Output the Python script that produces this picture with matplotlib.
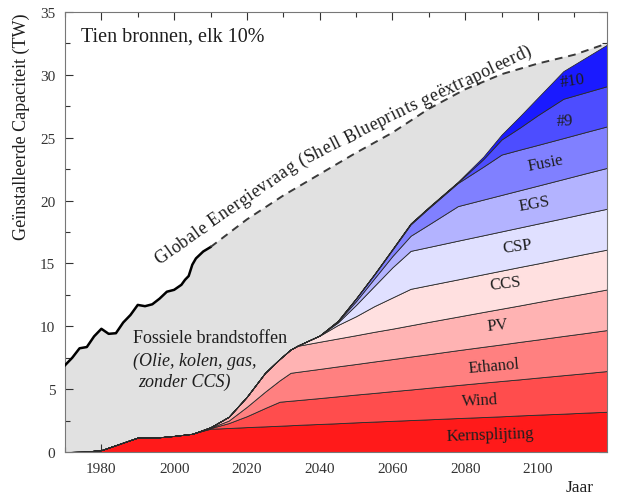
import numpy as np
import matplotlib
matplotlib.use("Agg")
import matplotlib.pyplot as plt
from matplotlib.ticker import MultipleLocator
from matplotlib.font_manager import FontProperties, findfont, get_font

plt.rcParams['font.family'] = ['Liberation Serif', 'DejaVu Serif']

# ------------------------------------------------------------
# data (TW)
# ------------------------------------------------------------
years = [1970, 1975, 1980, 1985, 1990, 1995, 2000, 2005, 2008, 2010, 2015, 2020,
         2025, 2029, 2032, 2034, 2040, 2045, 2050, 2055, 2060, 2065, 2070, 2078,
         2085, 2090, 2095, 2100, 2107, 2113, 2119]

kern = [0, 0.02, 0.15, 0.65, 1.15, 1.15, 1.28, 1.45, 1.7, 1.85, 1.91, 1.98,
        2.04, 2.09, 2.13, 2.16, 2.23, 2.29, 2.36, 2.42, 2.48, 2.54, 2.60, 2.70,
        2.78, 2.84, 2.91, 2.97, 3.05, 3.13, 3.2]
wind = [0, 0, 0, 0, 0, 0, 0, 0, 0.02, 0.05, 0.39, 0.87,
        1.46, 1.91, 1.95, 1.97, 2.06, 2.14, 2.21, 2.28, 2.36, 2.43, 2.51, 2.63,
        2.74, 2.81, 2.87, 2.95, 3.06, 3.14, 3.24]
ethanol = [0, 0, 0, 0, 0, 0, 0, 0, 0.02, 0.03, 0.2, 0.75,
           1.3, 1.7, 2.22, 2.25, 2.32, 2.38, 2.43, 2.5, 2.55, 2.62, 2.67, 2.77,
           2.85, 2.91, 2.98, 3.03, 3.12, 3.19, 3.26]
pv = [0, 0, 0, 0, 0, 0, 0, 0, 0.02, 0.04, 0.3, 0.8,
      1.5, 1.7, 1.85, 2.07, 2.16, 2.22, 2.29, 2.36, 2.42, 2.49, 2.57, 2.67,
      2.77, 2.84, 2.9, 2.98, 3.07, 3.15, 3.23]
ccs = [0, 0, 0, 0, 0, 0, 0, 0, 0, 0, 0, 0,
       0, 0, 0, 0.02, 0.48, 1.07, 1.51, 2.04, 2.48, 2.9, 2.92, 2.96,
       3.0, 3.03, 3.06, 3.07, 3.11, 3.15, 3.17]
csp = [0, 0, 0, 0, 0, 0, 0, 0, 0, 0, 0, 0,
       0, 0, 0, 0, 0.02, 0.2, 0.9, 1.6, 2.4, 3.02, 3.04, 3.08,
       3.1, 3.12, 3.14, 3.17, 3.19, 3.22, 3.25]
egs = [0, 0, 0, 0, 0, 0, 0, 0, 0, 0, 0, 0,
       0, 0, 0, 0, 0, 0.08, 0.3, 0.6, 0.9, 1.2, 1.79, 2.75,
       2.84, 2.9, 2.96, 3.02, 3.11, 3.18, 3.25]
fusie = [0, 0, 0, 0, 0, 0, 0, 0, 0, 0, 0, 0,
         0, 0, 0, 0, 0, 0.05, 0.2, 0.3, 0.5, 0.9, 1.3, 1.84,
         2.62, 3.21, 3.23, 3.24, 3.26, 3.28, 3.3]
bron9 = [0, 0, 0, 0, 0, 0, 0, 0, 0, 0, 0, 0,
         0, 0, 0, 0, 0, 0, 0.02, 0.03, 0.04, 0.05, 0.05, 0.05,
         0.6, 1.2, 1.75, 2.37, 3.13, 3.16, 3.2]
bron10 = [0, 0, 0, 0, 0, 0, 0, 0, 0, 0, 0, 0,
          0, 0, 0, 0, 0, 0, 0.02, 0.03, 0.04, 0.05, 0.05, 0.05,
          0.2, 0.39, 0.9, 1.4, 2.2, 2.75, 3.3]

layer_names = ["Kernsplijting", "Wind", "Ethanol", "PV", "CCS",
               "CSP", "EGS", "Fusie", "#9", "#10"]

# historische energievraag (doorgetrokken lijn)
hist_years = [1970, 1972, 1974, 1976, 1978, 1980, 1982, 1984, 1986, 1988, 1990,
              1992, 1994, 1996, 1998, 2000, 2002, 2003, 2004, 2005, 2006, 2008, 2010]
hist_demand = [6.9, 7.5, 8.25, 8.35, 9.2, 9.8, 9.4, 9.45, 10.3, 10.9, 11.7,
               11.6, 11.75, 12.2, 12.75, 12.9, 13.3, 13.7, 14.0, 14.9, 15.4, 15.95, 16.3]

# Shell Blueprints, geextrapoleerd (stippellijn)
proj_years = [2010, 2020, 2030, 2040, 2050, 2060, 2070, 2080, 2090, 2100, 2110, 2119]
proj_demand = [16.3, 18.5, 20.4, 22.1, 23.8, 25.4, 27.3, 28.85, 30.05, 30.9, 31.6, 32.5]

# ------------------------------------------------------------
# styling
# ------------------------------------------------------------
colors = ['#ff1a1a', '#ff4d4d', '#ff8080', '#ffb3b3', '#ffe0e0',
          '#e0e0ff', '#b3b3ff', '#8080ff', '#4d4dff', '#1a1aff']
fossil_color = '#e1e1e1'
txt = '#1e1e1e'

# label positions (year, TW, rotation)
label_pos = [(2087, 1.4, 2), (2084, 4.15, 3), (2088, 6.85, 5), (2089, 10.1, 6),
             (2091, 13.4, 7), (2094.5, 16.4, 8), (2099, 19.8, 10), (2102, 23.0, 11),
             (2107.5, 26.4, 3), (2109.5, 29.6, 8)]

fig = plt.figure(figsize=(6.25, 5.02), dpi=100)
ax = fig.add_axes([0.104, 0.0976, 0.8672, 0.8765])

layers = [kern, wind, ethanol, pv, ccs, csp, egs, fusie, bron9, bron10]
total = np.sum(np.array(layers), axis=0)

# fossiele brandstoffen: tussen vraag en de som van de bronnen
all_dem_x = hist_years + proj_years[1:]
all_dem_y = hist_demand + proj_demand[1:]
poly_x = list(all_dem_x) + list(years[::-1])
poly_y = list(all_dem_y) + list(total[::-1])
ax.fill(poly_x, poly_y, color=fossil_color, lw=0, zorder=1)

ax.stackplot(years, *layers, colors=colors, edgecolor='#2a2a2a',
             linewidth=0.6, zorder=2)

ax.plot(hist_years, hist_demand, color='black', lw=1.8, zorder=4,
        solid_joinstyle='round')
ax.plot(proj_years, proj_demand, color='#3a3a3a', lw=1.4, ls=(0, (4, 3)), zorder=4)

for name, (x, y, r) in zip(layer_names, label_pos):
    ax.text(x, y, name, ha='center', va='center', rotation=r, fontsize=12,
            color=txt, zorder=5)

ax.text(0.03, 0.945, "Tien bronnen, elk 10%", transform=ax.transAxes,
        fontsize=14.5, color=txt, va='center', ha='left')
ax.text(1988.7, 9.1, "Fossiele brandstoffen", fontsize=13, color=txt,
        va='center', ha='left', zorder=5)
ax.text(1988.7, 7.3, "(Olie, kolen, gas,", fontsize=13, color=txt,
        style='italic', va='center', ha='left', zorder=5)
ax.text(1990.0, 5.6, "zonder CCS)", fontsize=13, color=txt,
        style='italic', va='center', ha='left', zorder=5)

# axes
ax.set_xlim(1970, 2119)
ax.set_ylim(0, 35)
ax.xaxis.set_major_locator(MultipleLocator(20))
ax.xaxis.set_minor_locator(MultipleLocator(10))
ax.yaxis.set_major_locator(MultipleLocator(5))
ax.yaxis.set_minor_locator(MultipleLocator(2.5))
ax.set_xticks([1980, 2000, 2020, 2040, 2060, 2080, 2100])
ax.tick_params(which='both', direction='in', top=True, right=True,
               labelsize=11, colors='#333333', width=0.8)
ax.tick_params(which='major', length=6, pad=7)
ax.tick_params(which='minor', length=3.5)
for sp in ax.spines.values():
    sp.set_color('#777777')
    sp.set_linewidth(0.8)

ax.set_ylabel("Geïnstalleerde Capaciteit (TW)", loc='top', fontsize=13, color=txt)
ax.yaxis.set_label_coords(-0.064, 1.0)
ax.text(0.975, -0.062, "Jaar", transform=ax.transAxes, fontsize=12.5,
        color=txt, ha='right', va='top')

# ------------------------------------------------------------
# tekst langs de vraagcurve, letter voor letter
# ------------------------------------------------------------
curve_label = "Globale Energievraag (Shell Blueprints geëxtrapoleerd)"
guide_x = [1996.0, 2010.5, 2034.4, 2061.8, 2097.4, 2118.0]
guide_y = [14.92, 17.94, 22.71, 26.69, 31.53, 33.4]
spacing = 1.07

fp = FontProperties(family='Liberation Serif', size=13)
font = get_font(findfont(fp))
font.set_size(13, fig.dpi)

pts = ax.transData.transform(np.column_stack([guide_x, guide_y]))
seg = np.diff(pts, axis=0)
seg_len = np.hypot(seg[:, 0], seg[:, 1])
cum = np.concatenate([[0], np.cumsum(seg_len)])
inv = ax.transData.inverted()

s = 0.0
for ch in curve_label:
    i = min(np.searchsorted(cum, s, side='right') - 1, len(seg) - 1)
    t = (s - cum[i]) / seg_len[i]
    p = pts[i] + t * seg[i]
    ang = np.degrees(np.arctan2(seg[i, 1], seg[i, 0]))
    xd, yd = inv.transform(p)
    ax.text(xd, yd, ch, rotation=ang, rotation_mode='anchor', ha='left',
            va='baseline', fontproperties=fp, color=txt, zorder=5)
    glyph = font.load_char(ord(ch))
    s += spacing * glyph.linearHoriAdvance / 65536.0

fig.savefig("out.png", dpi=100)
